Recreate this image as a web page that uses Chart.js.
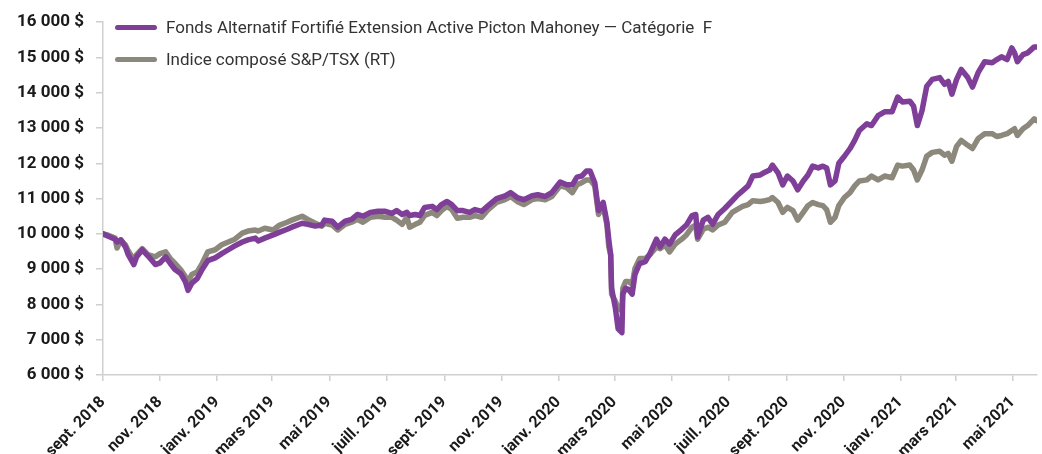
<!DOCTYPE html>
<html lang="fr">
<head>
<meta charset="utf-8">
<title>Croissance de 10 000 $</title>
<script src="https://cdn.jsdelivr.net/npm/chart.js@4.4.0/dist/chart.umd.min.js"></script>
<style>
  html, body { margin: 0; padding: 0; background: #fff; }
  #cadre { position: relative; width: 1042px; height: 454px; overflow: hidden; }
  #legende { position: absolute; left: 115px; top: 11px; font-family: Roboto, sans-serif; font-size: 17px; color: #333; }
  .item { display: flex; align-items: center; height: 32px; white-space: pre; }
  .trait { width: 42px; height: 5px; border-radius: 3px; margin-right: 9px; }
</style>
</head>
<body>
<div id="cadre">
  <canvas id="graphique" width="1042" height="454"></canvas>
  <div id="legende"></div>
</div>
<script>
// Dates des valeurs
const dates = [
  '2018-09-01','2018-09-06','2018-09-14','2018-09-16','2018-09-20','2018-09-25','2018-09-28','2018-10-04','2018-10-07','2018-10-13',
  '2018-10-19','2018-10-27','2018-11-01','2018-11-07','2018-11-12','2018-11-17','2018-11-23','2018-11-28','2018-12-01','2018-12-05',
  '2018-12-11','2018-12-16','2018-12-22','2018-12-30','2019-01-06','2019-01-13','2019-01-20','2019-01-28','2019-02-03','2019-02-11',
  '2019-02-14','2019-02-21','2019-03-02','2019-03-09','2019-03-17','2019-03-22','2019-04-02','2019-04-08','2019-04-16','2019-04-23',
  '2019-04-26','2019-05-04','2019-05-10','2019-05-18','2019-05-25','2019-05-31','2019-06-06','2019-06-14','2019-06-22','2019-06-30',
  '2019-07-07','2019-07-12','2019-07-18','2019-07-23','2019-07-26','2019-08-01','2019-08-06','2019-08-11','2019-08-19','2019-08-24',
  '2019-08-29','2019-09-04','2019-09-09','2019-09-15','2019-09-21','2019-09-28','2019-10-04','2019-10-11','2019-10-18','2019-10-27',
  '2019-11-05','2019-11-11','2019-11-18','2019-11-25','2019-12-04','2019-12-10','2019-12-18','2019-12-25','2020-01-03','2020-01-10',
  '2020-01-16','2020-01-21','2020-01-26','2020-01-31','2020-02-04','2020-02-09','2020-02-13','2020-02-18','2020-02-22','2020-02-24',
  '2020-02-26','2020-02-27','2020-03-02','2020-03-05','2020-03-09','2020-03-10','2020-03-13','2020-03-16','2020-03-20','2020-03-23',
  '2020-03-28','2020-04-03','2020-04-08','2020-04-15','2020-04-19','2020-04-24','2020-04-29','2020-05-05','2020-05-12','2020-05-17',
  '2020-05-23','2020-05-27','2020-05-29','2020-06-04','2020-06-09','2020-06-14','2020-06-20','2020-06-27','2020-07-05','2020-07-10',
  '2020-07-16','2020-07-22','2020-07-27','2020-08-04','2020-08-09','2020-08-14','2020-08-17','2020-08-23','2020-08-28','2020-09-02',
  '2020-09-08','2020-09-13','2020-09-19','2020-09-24','2020-09-29','2020-10-05','2020-10-10','2020-10-14','2020-10-18','2020-10-23',
  '2020-10-27','2020-11-02','2020-11-08','2020-11-13','2020-11-18','2020-11-26','2020-12-01','2020-12-08','2020-12-15','2020-12-23',
  '2020-12-29','2021-01-03','2021-01-11','2021-01-15','2021-01-19','2021-01-24','2021-01-29','2021-02-04','2021-02-12','2021-02-17',
  '2021-02-21','2021-02-25','2021-03-02','2021-03-07','2021-03-14','2021-03-19','2021-03-25','2021-04-01','2021-04-09','2021-04-14',
  '2021-04-19','2021-04-25','2021-04-30','2021-05-03','2021-05-06','2021-05-12','2021-05-17','2021-05-24','2021-05-27'
];

// Fonds Alternatif Fortifié Extension Active Picton Mahoney — Catégorie F
const fonds = [
  10000, 9940, 9850, 9770, 9830, 9630, 9410, 9130, 9350, 9550,
  9380, 9130, 9180, 9350, 9160, 8990, 8880, 8650, 8400, 8600,
  8740, 8990, 9240, 9320, 9440, 9550, 9660, 9770, 9830, 9880,
  9800, 9880, 9970, 10050, 10130, 10190, 10300, 10270, 10220, 10250,
  10390, 10360, 10190, 10360, 10410, 10550, 10500, 10610, 10640, 10640,
  10580, 10660, 10550, 10610, 10520, 10550, 10520, 10750, 10780, 10690,
  10830, 10920, 10830, 10660, 10660, 10610, 10690, 10640, 10800, 11000,
  11080, 11170, 11030, 10970, 11080, 11110, 11060, 11170, 11470, 11390,
  11390, 11610, 11640, 11780, 11780, 11450, 10660, 10890, 10330, 9830,
  9410, 8460, 7900, 7310, 7200, 8290, 8460, 8430, 8290, 8850,
  9160, 9210, 9440, 9850, 9630, 9850, 9710, 9970, 10130, 10250,
  10520, 10550, 9910, 10390, 10470, 10270, 10550, 10720, 10940, 11080,
  11220, 11360, 11640, 11670, 11750, 11810, 11950, 11730, 11390, 11640,
  11500, 11250, 11500, 11670, 11920, 11870, 11920, 11870, 11390, 11500,
  12000, 12200, 12420, 12650, 12930, 13120, 13070, 13350, 13460, 13460,
  13880, 13740, 13760, 13620, 13070, 13490, 14180, 14380, 14430, 14240,
  14320, 13960, 14380, 14660, 14430, 14160, 14570, 14880, 14850, 14940,
  15020, 14940, 15270, 15130, 14880, 15080, 15130, 15300, 15300
];

// Indice composé S&P/TSX (RT)
const indice = [
  10000, 9970, 9880, 9600, 9830, 9690, 9520, 9270, 9410, 9580,
  9410, 9350, 9440, 9490, 9300, 9160, 8990, 8790, 8650, 8850,
  8930, 9160, 9490, 9550, 9690, 9770, 9850, 10020, 10080, 10110,
  10080, 10160, 10110, 10250, 10330, 10390, 10500, 10410, 10300, 10220,
  10300, 10250, 10110, 10270, 10330, 10410, 10330, 10470, 10500, 10470,
  10470, 10390, 10270, 10470, 10190, 10270, 10330, 10520, 10610, 10520,
  10660, 10780, 10690, 10440, 10470, 10470, 10520, 10470, 10690, 10890,
  10970, 11060, 10920, 10830, 10970, 11000, 10970, 11060, 11360, 11310,
  11170, 11390, 11450, 11530, 11530, 11360, 10550, 10800, 10250, 9630,
  9410, 8290, 8090, 7900, 7820, 8460, 8650, 8650, 8570, 9020,
  9300, 9300, 9410, 9630, 9580, 9690, 9490, 9710, 9850, 9970,
  10190, 10250, 9850, 10130, 10190, 10110, 10250, 10330, 10610, 10690,
  10780, 10830, 10940, 10920, 10940, 10970, 11030, 10890, 10610, 10750,
  10660, 10390, 10610, 10800, 10890, 10830, 10800, 10690, 10330, 10470,
  10800, 11030, 11170, 11360, 11500, 11530, 11640, 11530, 11640, 11590,
  11950, 11920, 11950, 11810, 11530, 11810, 12200, 12310, 12340, 12230,
  12280, 12060, 12480, 12650, 12510, 12420, 12700, 12840, 12840, 12760,
  12790, 12840, 12930, 12980, 12790, 12980, 13070, 13260, 13210
];

// Graduations de l'axe horizontal
const moisTicks = [
  '2018-09-01','2018-11-01','2019-01-01','2019-03-01','2019-05-01','2019-07-01','2019-09-01','2019-11-01',
  '2020-01-01','2020-03-01','2020-05-01','2020-07-01','2020-09-01','2020-11-01','2021-01-01','2021-03-01','2021-05-01'
];
const moisLabels = [
  'sept. 2018','nov. 2018','janv. 2019','mars 2019','mai 2019','juill. 2019','sept. 2019','nov. 2019',
  'janv. 2020','mars 2020','mai 2020','juill. 2020','sept. 2020','nov. 2020','janv. 2021','mars 2021','mai 2021'
];

const series = ['Fonds Alternatif Fortifié Extension Active Picton Mahoney — Catégorie  F', 'Indice composé S&P/TSX (RT)'];
const couleurs = ['#7f3f98', '#8c887c'];

const police = "Roboto, 'DejaVu Sans', sans-serif";

function points(valeurs) {
    return dates.map((d, i) => ({ x: Date.parse(d), y: valeurs[i] }));
}

// Légende dessinée dans la zone du graphique
const legende = document.getElementById('legende');
series.forEach((nom, i) => {
    const item = document.createElement('div');
    item.className = 'item';
    const trait = document.createElement('span');
    trait.className = 'trait';
    trait.style.background = couleurs[i];
    const texte = document.createElement('span');
    texte.textContent = nom;
    item.appendChild(trait);
    item.appendChild(texte);
    legende.appendChild(item);
});

const ctx = document.getElementById('graphique').getContext('2d');
const chart = new Chart(ctx, {
    type: 'line',
    data: {
        datasets: [
            { label: series[0], data: points(fonds), borderColor: couleurs[0], borderWidth: 5.5 },
            { label: series[1], data: points(indice), borderColor: couleurs[1], borderWidth: 5.5 }
        ]
    },
    options: {
        responsive: false,
        animation: false,
        devicePixelRatio: 1,
        layout: { padding: { top: 17, right: 5, left: 0, bottom: 0 } },
        elements: {
            point: { radius: 0 },
            line: { tension: 0, borderJoinStyle: 'round', borderCapStyle: 'round' }
        },
        plugins: {
            legend: { display: false },
            tooltip: { enabled: false }
        },
        scales: {
            x: {
                type: 'linear',
                min: Date.parse(dates[0]),
                max: Date.parse(dates[dates.length - 1]),
                afterBuildTicks: scale => {
                    scale.ticks = moisTicks.map(d => ({ value: Date.parse(d) }));
                },
                afterFit: scale => { scale.height = 79; },
                border: { display: true, color: '#cfcfcf', width: 1.5 },
                grid: { display: true, drawOnChartArea: false, color: '#cfcfcf', tickLength: 6, lineWidth: 1.5 },
                ticks: {
                    autoSkip: false,
                    maxRotation: 45,
                    minRotation: 45,
                    padding: 12,
                    color: '#1a1a1a',
                    font: { family: police, size: 16, weight: 'bold' },
                    callback: (value, index) => moisLabels[index]
                }
            },
            y: {
                min: 6000,
                max: 16000,
                afterFit: scale => { scale.width = 103; },
                border: { display: true, color: '#cfcfcf', width: 1.5 },
                grid: { display: true, drawOnChartArea: false, color: '#cfcfcf', tickLength: 7, lineWidth: 1.5 },
                ticks: {
                    stepSize: 1000,
                    padding: 12,
                    color: '#1a1a1a',
                    font: { family: police, size: 17, weight: 'bold' },
                    callback: value => Math.round(value / 1000) + ' 000 $'
                }
            }
        }
    }
});
</script>
</body>
</html>
